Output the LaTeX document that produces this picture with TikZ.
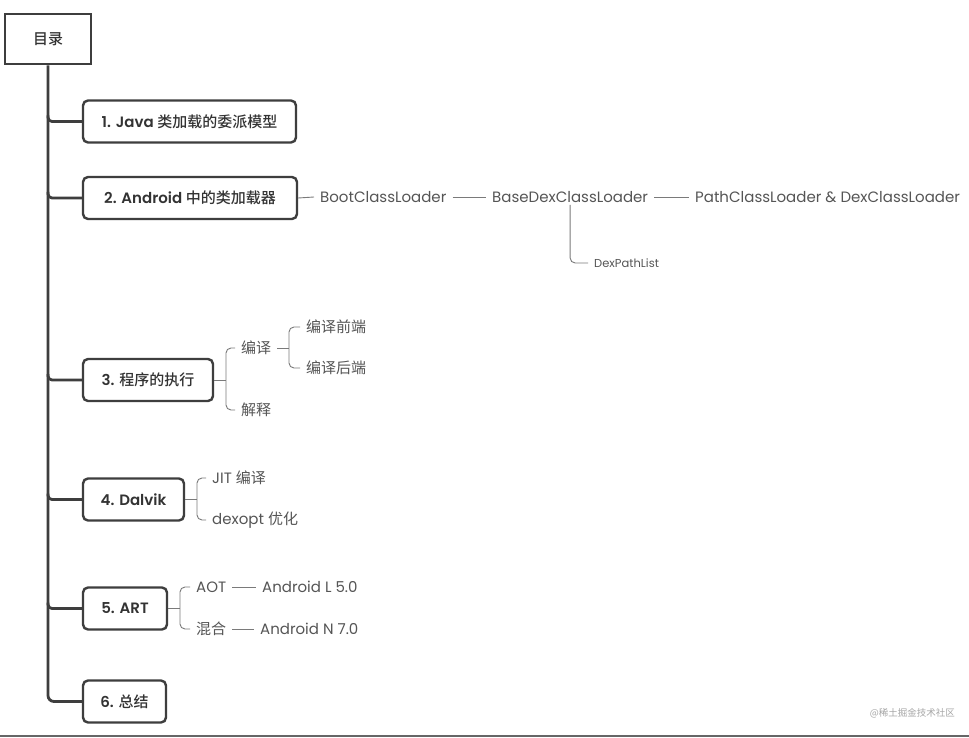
\documentclass[tikz,border=0pt]{standalone}
\usepackage{fontspec}
\setmainfont{Poppins}[BoldFont={Poppins SemiBold}]
\newfontfamily\cjk{Noto Sans CJK SC}[BoldFont={Noto Sans CJK SC Medium}]
\newcommand\zh[1]{{\cjk #1}}
\usetikzlibrary{calc}
\definecolor{boxline}{HTML}{3E3E3E}
\definecolor{boxtext}{HTML}{333333}
\definecolor{lbltext}{HTML}{555555}
\definecolor{conncol}{HTML}{7A7A7A}
\tikzset{
  rootbox/.style={draw=boxline, line width=2.6pt, minimum width=86pt, minimum height=50pt, inner sep=0pt, text=boxtext, font=\fontsize{15}{17}\selectfont\bfseries},
  topicbox/.style={draw=boxline, line width=2.4pt, rounded corners=5pt, minimum height=42pt, inner sep=0pt, text=boxtext, font=\fontsize{15}{17}\selectfont\bfseries},
  lbl/.style={anchor=west, inner xsep=6pt, inner ysep=2pt, text=lbltext, font=\fontsize{15}{17}\selectfont},
  smalllbl/.style={anchor=west, inner xsep=6pt, inner ysep=2pt, text=lbltext, font=\fontsize{11.5}{13}\selectfont},
  trunk/.style={draw=boxline, line width=2.8pt},
  conn/.style={draw=conncol, line width=0.9pt},
}
\begin{document}
\begin{tikzpicture}[x=1pt, y=-1pt]
\useasboundingbox (0,0) rectangle (969,738);
\fill[white] (0,0) rectangle (969,738);

% root and topics
\node[rootbox] (root) at (48,39) {\zh{目录}};
\node[topicbox, minimum width=213pt] (b1) at (189.5,121.5) {1. Java \zh{类加载的委派模型}};
\node[topicbox, minimum width=214pt] (b2) at (190,198) {2. Android \zh{中的类加载器}};
\node[topicbox, minimum width=130pt] (b3) at (148,380) {3. \zh{程序的执行}};
\node[topicbox, minimum width=101pt] (b4) at (133.5,499.5) {4. Dalvik};
\node[topicbox, minimum width=84pt] (b5) at (125,608.5) {5. ART};
\node[topicbox, minimum width=83pt] (b6) at (124.5,701.5) {6. \zh{总结}};

% trunk
\draw[trunk, rounded corners=6pt] (root.south) |- (b6.west);
\foreach \b in {b1,b2,b3,b4,b5}{
  \draw[trunk, rounded corners=4pt] ($(root.south |- \b.west)+(0,-6)$) |- (\b.west);
}

% topic 2
\node[lbl] (boot) at (314,197) {BootClassLoader};
\node[lbl] (base) at (486,197) {BaseDexClassLoader};
\node[lbl] (pcl) at (689,197) {PathClassLoader \& DexClassLoader};
\node[smalllbl] (dpl) at (588,263) {DexPathList};
\draw[conn] (b2.east) -- (boot.west);
\draw[conn] (boot.east) -- (base.west);
\draw[conn] (base.east) -- (pcl.west);
\draw[conn, rounded corners=5pt] (base.south) |- (dpl.west);

% topic 3
\node[lbl] (bianyi) at (235,348) {\zh{编译}};
\node[lbl] (jieshi) at (235,410) {\zh{解释}};
\node[lbl] (qd) at (300,327) {\zh{编译前端}};
\node[lbl] (hd) at (300,368) {\zh{编译后端}};
\coordinate (j3) at (226,380);
\draw[conn] (b3.east) -- (j3);
\draw[conn, rounded corners=5pt] (bianyi.west) -| (j3) |- (jieshi.west);
\coordinate (j31) at (289,348);
\draw[conn] (bianyi.east) -- (j31);
\draw[conn, rounded corners=5pt] (qd.west) -| (j31) |- (hd.west);

% topic 4
\node[lbl] (jit) at (206,478) {JIT \zh{编译}};
\node[lbl] (dexopt) at (206,520) {dexopt \zh{优化}};
\coordinate (j4) at (197,499.5);
\draw[conn] (b4.east) -- (j4);
\draw[conn, rounded corners=5pt] (jit.west) -| (j4) |- (dexopt.west);

% topic 5
\node[lbl] (aot) at (190,587) {AOT};
\node[lbl] (hh) at (190,629) {\zh{混合}};
\node[lbl] (al) at (256,587) {Android L 5.0};
\node[lbl] (an) at (254,629) {Android N 7.0};
\coordinate (j5) at (180,608.5);
\draw[conn] (b5.east) -- (j5);
\draw[conn, rounded corners=5pt] (aot.west) -| (j5) |- (hh.west);
\draw[conn] (aot.east) -- (al.west);
\draw[conn] (hh.east) -- (an.west);

% watermark and bottom rule
\node[anchor=east, inner sep=0pt, text=black!35, font=\cjk\fontsize{9.5}{11}\selectfont] (wm) at (955,713) {@稀土掘金技术社区};
\draw[draw=black!60, line width=1.8pt] (0,736) -- (969,736);
\end{tikzpicture}
\end{document}
